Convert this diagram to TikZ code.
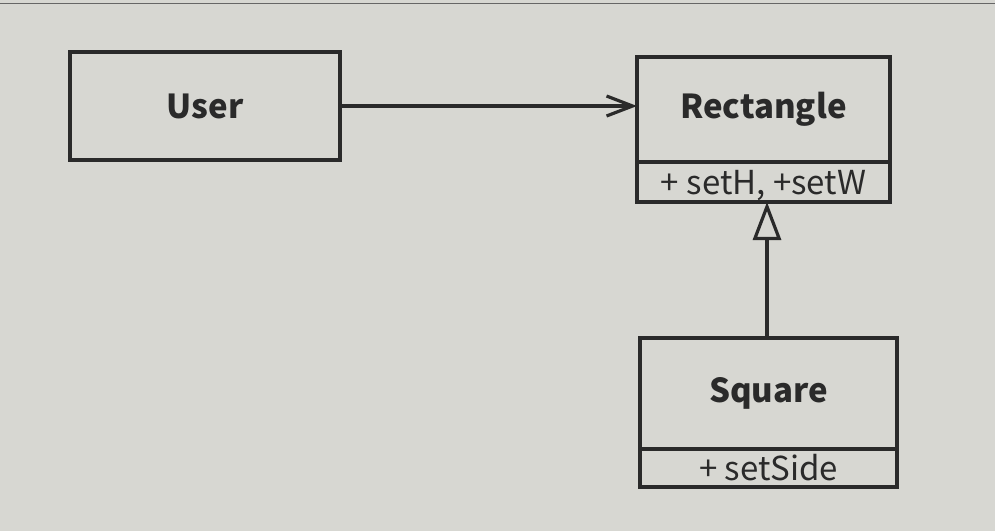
\documentclass[tikz,border=0pt]{standalone}
\usepackage{fontspec}
\setmainfont{Noto Sans CJK KR}
\usetikzlibrary{arrows.meta}
\definecolor{paper}{RGB}{215,215,210}
\definecolor{ink}{RGB}{42,42,42}
\begin{document}
\begin{tikzpicture}[x=1pt,y=-1pt,
  box/.style={draw=ink,line width=3.4pt,rectangle,inner sep=0pt,outer sep=0pt,text=ink,font=\fontsize{33}{37}\selectfont\bfseries},
  meth/.style={draw=ink,line width=3.4pt,rectangle,inner sep=0pt,outer sep=0pt,text=ink,font=\fontsize{33}{37}\selectfont},
  conn/.style={draw=ink,line width=3.2pt}]
\fill[paper] (0,0) rectangle (995,531);
\useasboundingbox (0,0) rectangle (995,531);
\draw[gray!80!black,line width=1pt] (0,3) -- (995,3);
% User
\node[box,minimum width=270pt,minimum height=108pt] (user) at (205,106) {User};
% Rectangle
\node[box,minimum width=253pt,minimum height=105pt] (rect) at (763.5,109.5) {Rectangle};
\node[meth,minimum width=253pt,minimum height=40pt,anchor=north,text depth=0pt,text height=24pt] (rectm) at (rect.south) {+ setH, +setW};
% Square
\node[box,minimum width=257pt,minimum height=111pt] (sq) at (768.5,393.5) {Square};
\node[meth,minimum width=257pt,minimum height=38pt,anchor=north,text depth=0pt,text height=24pt] (sqm) at (sq.south) {+ setSide};
% connectors
\draw[conn,-{Straight Barb[length=26pt,width=20pt,line width=3.2pt]}] (user.east) -- (user.east -| rect.west);
\draw[conn,-{Triangle[open,length=38pt,width=28pt,line width=3.2pt,fill=paper]}] (sq.north -| 767,0) -- (rectm.south -| 767,0);
\end{tikzpicture}
\end{document}
